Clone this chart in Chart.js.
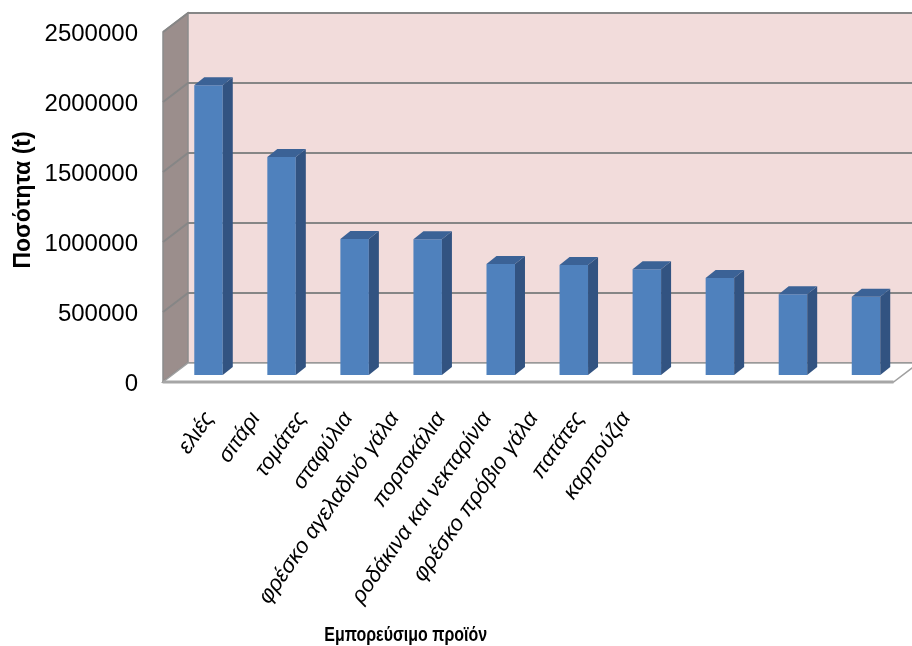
<!DOCTYPE html>
<html>
<head>
<meta charset="utf-8">
<script src="https://cdn.jsdelivr.net/npm/chart.js@4"></script>
<style>
  html, body { margin: 0; padding: 0; background: #fff; }
  #wrap { width: 912px; height: 646px; }
</style>
</head>
<body>
<div id="wrap"><canvas id="chart" width="912" height="646"></canvas></div>
<script>
const categories = ['ελιές', 'σιτάρι', 'τομάτες', 'σταφύλια', 'φρέσκο αγελαδινό γάλα',
    'πορτοκάλια', 'ροδάκινα και νεκταρίνια', 'φρέσκο πρόβιο γάλα', 'πατάτες', 'καρπούζια'];
const quantities = [2070000, 1557000, 971000, 969000, 793000, 786000, 755000, 693000, 576000, 559000];
const yMax = 2500000;
const yStep = 500000;
const yTitle = 'Ποσότητα (t)';
const xTitle = 'Εμπορεύσιμο προϊόν';

const FONT = "'Liberation Sans', Arial, sans-serif";

// 3d look: offsets from the bar plane to the back wall / front edge / bar back
const BACK = { dx: 16, dy: -12 };
const FRONT = { dx: -9, dy: 7 };
const BAR = { dx: 10, dy: -8 };

const box3d = {
    id: 'box3d',
    beforeDatasetsDraw(chart) {
        const ctx = chart.ctx;
        const { left, right, top, bottom } = chart.chartArea;
        const y = chart.scales.y;
        ctx.save();
        // back wall
        ctx.fillStyle = '#f2dcdb';
        ctx.fillRect(left + BACK.dx, top + BACK.dy, right - left + 20, bottom - top);
        // left wall
        ctx.fillStyle = '#9b8e8c';
        ctx.beginPath();
        ctx.moveTo(left + FRONT.dx, top + FRONT.dy);
        ctx.lineTo(left + BACK.dx, top + BACK.dy);
        ctx.lineTo(left + BACK.dx, bottom + BACK.dy);
        ctx.lineTo(left + FRONT.dx, bottom + FRONT.dy);
        ctx.closePath();
        ctx.fill();
        ctx.strokeStyle = '#8c8c8c';
        ctx.lineWidth = 1.5;
        ctx.stroke();
        // gridlines on both walls
        ctx.strokeStyle = '#868686';
        ctx.lineWidth = 2;
        for (let v = 0; v <= yMax; v += yStep) {
            const py = y.getPixelForValue(v);
            ctx.beginPath();
            ctx.moveTo(left + FRONT.dx, py + FRONT.dy);
            ctx.lineTo(left + BACK.dx, py + BACK.dy);
            ctx.lineTo(chart.width + 20, py + BACK.dy);
            ctx.stroke();
        }
        // floor
        const zero = y.getPixelForValue(0);
        ctx.fillStyle = '#ffffff';
        ctx.beginPath();
        ctx.moveTo(left + FRONT.dx, zero + FRONT.dy);
        ctx.lineTo(left + BACK.dx, zero + BACK.dy);
        ctx.lineTo(right + BACK.dx, zero + BACK.dy);
        ctx.lineTo(right + FRONT.dx, zero + FRONT.dy);
        ctx.closePath();
        ctx.fill();
        ctx.strokeStyle = '#a0a0a0';
        ctx.lineWidth = 1.5;
        ctx.stroke();
        ctx.strokeStyle = '#a6a6a6';
        ctx.lineWidth = 3;
        ctx.beginPath();
        ctx.moveTo(left + FRONT.dx, zero + FRONT.dy);
        ctx.lineTo(right + FRONT.dx, zero + FRONT.dy);
        ctx.stroke();
        ctx.restore();
    },
    afterDatasetsDraw(chart) {
        const ctx = chart.ctx;
        ctx.save();
        chart.getDatasetMeta(0).data.forEach(bar => {
            const { x, y, base, width } = bar.getProps(['x', 'y', 'base', 'width'], true);
            const l = x - width / 2, r = x + width / 2;
            ctx.fillStyle = '#325381';
            ctx.beginPath();
            ctx.moveTo(r, y);
            ctx.lineTo(r + BAR.dx, y + BAR.dy);
            ctx.lineTo(r + BAR.dx, base + BAR.dy);
            ctx.lineTo(r, base);
            ctx.closePath();
            ctx.fill();
            ctx.fillStyle = '#3b6296';
            ctx.beginPath();
            ctx.moveTo(l, y);
            ctx.lineTo(l + BAR.dx, y + BAR.dy);
            ctx.lineTo(r + BAR.dx, y + BAR.dy);
            ctx.lineTo(r, y);
            ctx.closePath();
            ctx.fill();
        });
        ctx.restore();
    },
    afterDraw(chart) {
        // x axis title, squeezed like the narrow original font
        const ctx = chart.ctx;
        const xl = chart.scales.xl;
        ctx.save();
        ctx.translate(xl.getPixelForValue(4.24), 635);
        ctx.scale(0.76, 1);
        ctx.fillStyle = '#000';
        ctx.font = "bold 21px " + FONT;
        ctx.textAlign = 'center';
        ctx.textBaseline = 'middle';
        ctx.fillText(xTitle, 0, 0);
        ctx.restore();
    }
};

new Chart(document.getElementById('chart'), {
    type: 'bar',
    data: {
        labels: categories,
        datasets: [{
            data: quantities,
            backgroundColor: '#4f81bd',
            borderWidth: 0,
            categoryPercentage: 1,
            barPercentage: 0.39
        }]
    },
    options: {
        responsive: false,
        animation: false,
        layout: { padding: { top: 25, right: 4, left: 0, bottom: 0 } },
        plugins: { legend: { display: false }, tooltip: { enabled: false } },
        scales: {
            x: { display: false },
            xl: {
                type: 'linear',
                position: 'bottom',
                min: -0.28,
                max: 14.44,
                grid: { display: false, drawTicks: false, tickLength: 0 },
                border: { display: false },
                afterFit: s => { s.height = 271; },
                ticks: {
                    stepSize: 1,
                    includeBounds: false,
                    autoSkip: false,
                    maxTicksLimit: 30,
                    minRotation: 55,
                    maxRotation: 55,
                    padding: 32,
                    color: '#000',
                    font: { family: FONT, size: 22, style: 'italic' },
                    callback: v => (Number.isInteger(v) && categories[v]) ? categories[v] : ''
                }
            },
            y: {
                min: 0,
                max: yMax,
                grid: { display: false, drawTicks: false, tickLength: 0 },
                border: { display: false },
                afterFit: s => { s.width = 172; s.paddingTop = 0; s.paddingBottom = 0; },
                ticks: {
                    stepSize: yStep,
                    padding: 34,
                    labelOffset: 9,
                    color: '#000',
                    font: { family: FONT, size: 24 },
                    callback: v => String(v)
                },
                title: {
                    display: true,
                    text: yTitle,
                    color: '#000',
                    font: { family: FONT, size: 23, weight: 'bold' },
                    padding: { top: 10, bottom: 0 }
                }
            }
        }
    },
    plugins: [box3d]
});
</script>
</body>
</html>
